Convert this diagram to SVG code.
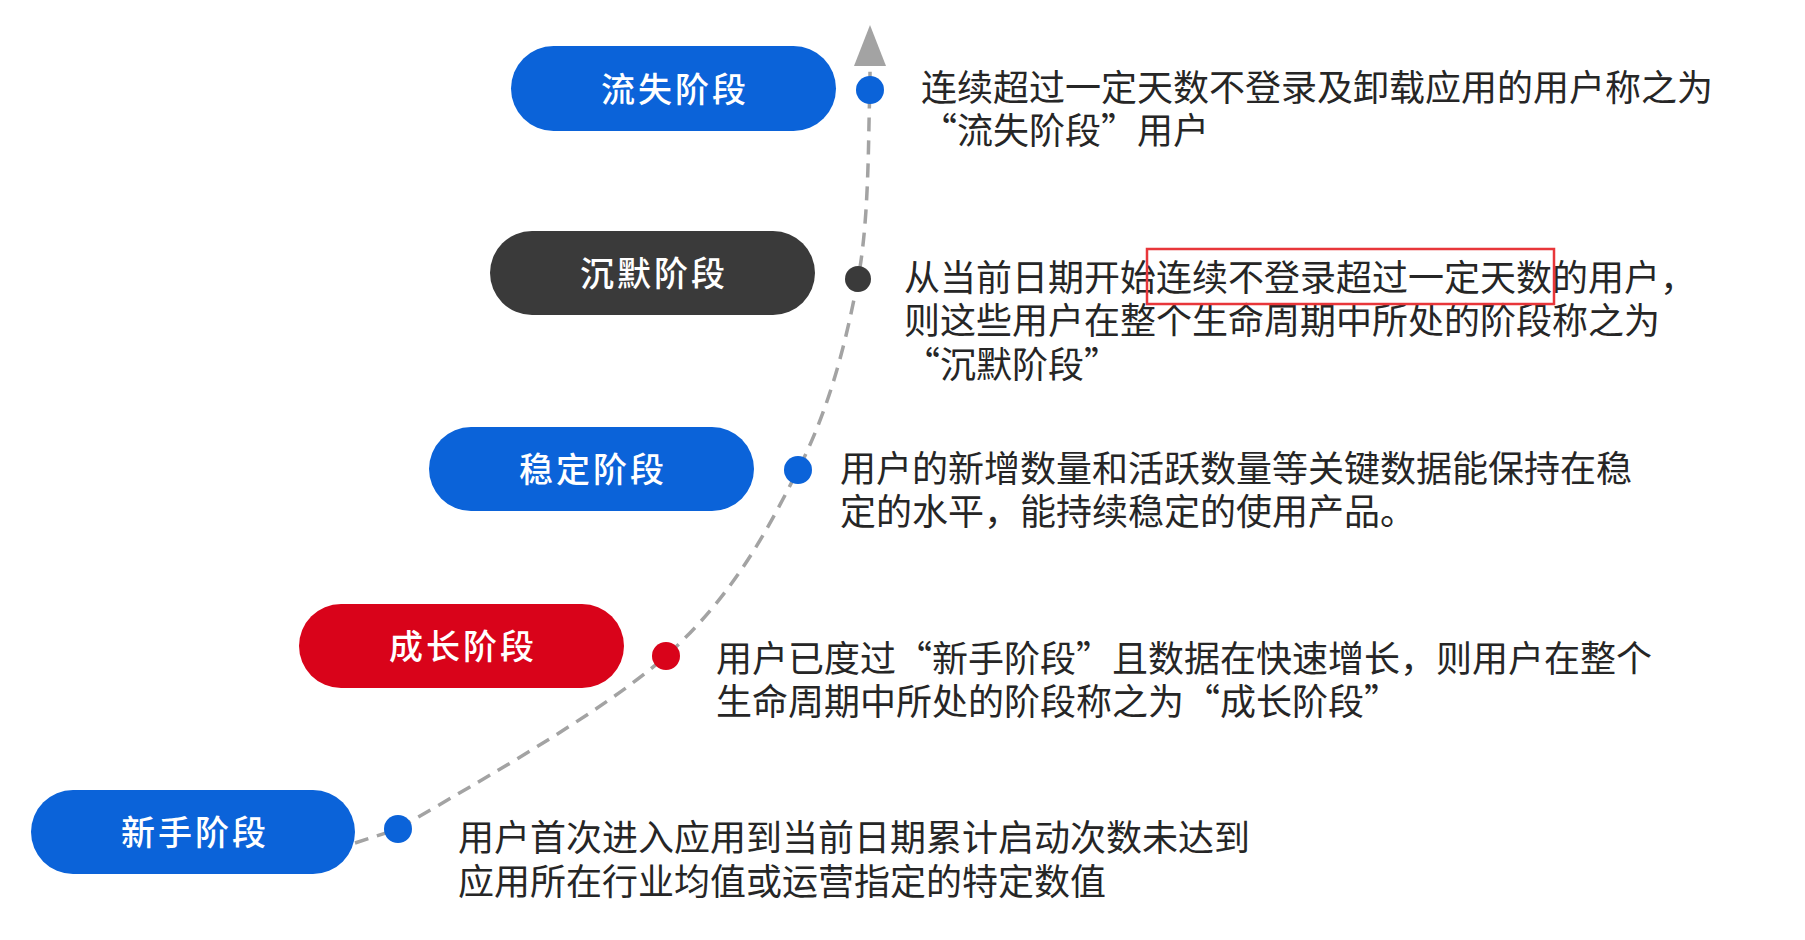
<svg xmlns="http://www.w3.org/2000/svg" width="1805" height="940" viewBox="0 0 1805 940">
<style>
.pill-blue{fill:#0b63d9}
.pill-dark{fill:#3a3a3a}
.pill-red{fill:#d9031a}
.label{font-family:"Noto Sans CJK SC","Noto Sans",sans-serif;font-size:34px;font-weight:500;fill:#ffffff;text-anchor:middle;letter-spacing:3px}
.desc{font-family:"Noto Sans CJK SC","Noto Sans",sans-serif;font-size:36px;fill:#262626}
.conn{fill:none;stroke:#a3a3a3;stroke-width:3.5;stroke-dasharray:14 9}
</style>
<rect width="1805" height="940" fill="#ffffff"/>
<g id="connectors">
<path class="conn" d="M355 843 L398 829 C449.8 797.8 599.3 715.8 666 656 C732.7 596.2 766 532.8 798 470 C830 407.2 846 342.3 858 279 C870 215.7 868 125.5 870 90 L870 64"/>
<polygon points="870,25 854,66 886,66" fill="#a3a3a3"/>
</g>
<g id="node-liushi">
<rect class="pill-blue" x="511" y="46" width="325" height="85" rx="42.5"/>
<text class="label" x="675" y="102">流失阶段</text>
<circle class="pill-blue" cx="870" cy="90" r="14"/>
<text class="desc" x="921" y="101">连续超过一定天数不登录及卸载应用的用户称之为</text>
<text class="desc" x="921" y="144">“流失阶段”用户</text>
</g>
<g id="node-chenmo">
<rect class="pill-dark" x="490" y="231" width="325" height="84" rx="42"/>
<text class="label" x="654" y="286">沉默阶段</text>
<circle class="pill-dark" cx="858" cy="279" r="13"/>
<text class="desc" x="904" y="290.5">从当前日期开始连续不登录超过一定天数的用户，</text>
<text class="desc" x="904" y="333.5">则这些用户在整个生命周期中所处的阶段称之为</text>
<text class="desc" x="904" y="377.5">“沉默阶段”</text>
<rect x="1147" y="249" width="407" height="55" fill="none" stroke="#e8363a" stroke-width="2.5"/>
</g>
<g id="node-wending">
<rect class="pill-blue" x="429" y="427" width="325" height="84" rx="42"/>
<text class="label" x="593" y="482">稳定阶段</text>
<circle class="pill-blue" cx="798" cy="470" r="14"/>
<text class="desc" x="840" y="482">用户的新增数量和活跃数量等关键数据能保持在稳</text>
<text class="desc" x="840" y="524.5">定的水平，能持续稳定的使用产品。</text>
</g>
<g id="node-chengzhang">
<rect class="pill-red" x="299" y="604" width="325" height="84" rx="42"/>
<text class="label" x="463" y="659">成长阶段</text>
<circle class="pill-red" cx="666" cy="656" r="14"/>
<text class="desc" x="716" y="671.5">用户已度过“新手阶段”且数据在快速增长，则用户在整个</text>
<text class="desc" x="716" y="714.5">生命周期中所处的阶段称之为“成长阶段”</text>
</g>
<g id="node-xinshou">
<rect class="pill-blue" x="31" y="790" width="324" height="84" rx="42"/>
<text class="label" x="195" y="845">新手阶段</text>
<circle class="pill-blue" cx="398" cy="829" r="14"/>
<text class="desc" x="458" y="850.5">用户首次进入应用到当前日期累计启动次数未达到</text>
<text class="desc" x="458" y="894.5">应用所在行业均值或运营指定的特定数值</text>
</g>
</svg>
